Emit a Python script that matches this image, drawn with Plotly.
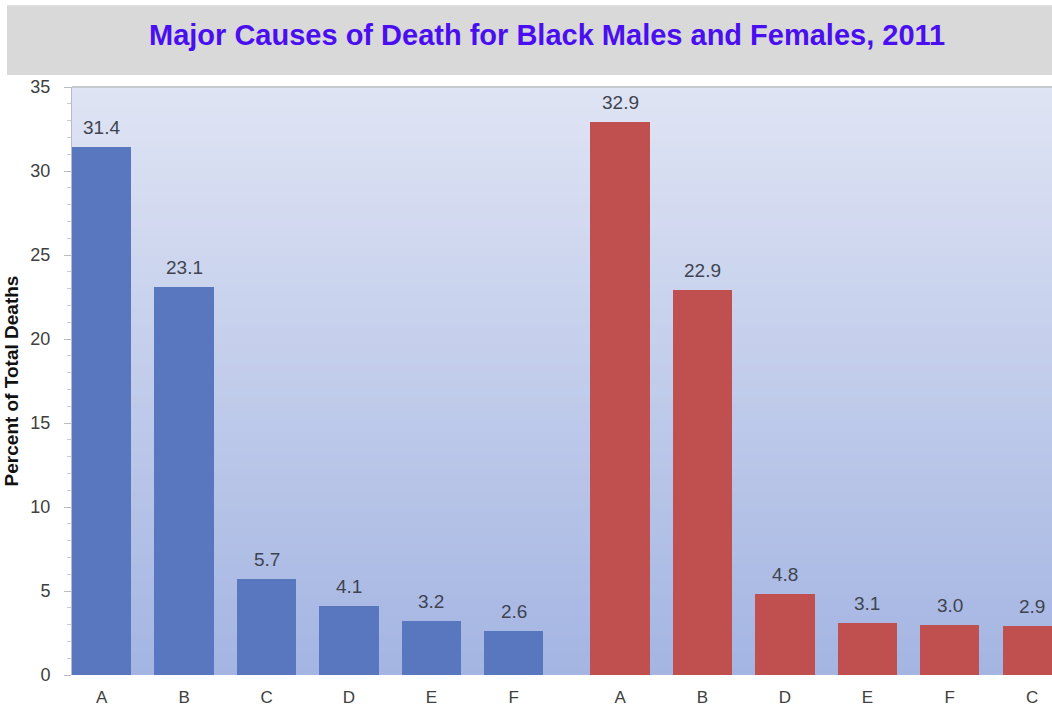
import plotly.graph_objects as go

# Percent of total deaths by cause
male_causes = ["A", "B", "C", "D", "E", "F"]
male_values = [31.4, 23.1, 5.7, 4.1, 3.2, 2.6]
female_causes = ["A", "B", "D", "E", "F", "C"]
female_values = [32.9, 22.9, 4.8, 3.1, 3.0, 2.9]

y_ticks = [0, 5, 10, 15, 20, 25, 30, 35]

GROUP_GAP = 0.29  # extra space between the two groups, in bar slots
BAR_W = 0.72

male_x = list(range(len(male_causes)))
female_x = [len(male_causes) + GROUP_GAP + i for i in range(len(female_causes))]

fig = go.Figure()

fig.add_trace(go.Bar(
    x=male_x, y=male_values, width=BAR_W,
    marker=dict(color="#5877bf", line=dict(width=0)),
    name="Males", showlegend=False, hoverinfo="y",
))
fig.add_trace(go.Bar(
    x=female_x, y=female_values, width=BAR_W,
    marker=dict(color="#c0504f", line=dict(width=0)),
    name="Females", showlegend=False, hoverinfo="y",
))

# value labels above bars
annotations = []
for xs, vals in ((male_x, male_values), (female_x, female_values)):
    for xv, v in zip(xs, vals):
        annotations.append(dict(
            x=xv, y=v, xref="x", yref="y", text=f"{v:.1f}",
            showarrow=False, yanchor="bottom", yshift=7,
            font=dict(family="Liberation Sans, Arial", size=19, color="#3f4450"),
        ))

# title
annotations.append(dict(
    x=0.485, y=1.088, xref="paper", yref="paper",
    text="<b>Major Causes of Death for Black Males and Females, 2011</b>",
    showarrow=False, xanchor="center", yanchor="middle",
    font=dict(family="Liberation Sans, Arial", size=29, color="#4a0ff0"),
))

shapes = []
# vertical gradient in the plotting area: stacked rects, each one shorter
# and darker, so no seams appear between bands
top = (223, 228, 244)
bottom = (164, 181, 226)
n = 80
for i in range(n):
    t = i / (n - 1)
    c = tuple(round(top[k] + (bottom[k] - top[k]) * t) for k in range(3))
    shapes.append(dict(
        type="rect", xref="x domain", yref="y domain",
        x0=0, x1=1, y0=0, y1=1 - i / n,
        fillcolor=f"rgb{c}", line=dict(width=0), layer="below",
    ))
# grey title band
shapes.append(dict(
    type="rect", xref="paper", yref="paper",
    x0=-0.0663, x1=1.0, y0=1.0204, y1=1.139,
    fillcolor="#d9d9d9", line=dict(width=0), layer="below",
))
# top border line of plot area
shapes.append(dict(
    type="line", xref="paper", yref="paper",
    x0=0, x1=1, y0=1.0, y1=1.0,
    line=dict(color="#c4c8cf", width=2), layer="above",
))

fig.update_layout(
    width=1052, height=710,
    margin=dict(l=72, r=0, t=87, b=35),
    paper_bgcolor="white",
    plot_bgcolor="rgba(0,0,0,0)",
    bargap=0,
    shapes=shapes,
    annotations=annotations,
    font=dict(family="Liberation Sans, Arial", color="#404040"),
    xaxis=dict(
        range=[-BAR_W / 2, -BAR_W / 2 + 11.89],
        tickvals=male_x + female_x,
        ticktext=male_causes + female_causes,
        showgrid=False, zeroline=False, showline=False,
        ticks="", tickfont=dict(size=17, color="#404040"),
        ticklabelstandoff=10,
    ),
    yaxis=dict(
        range=[0, 35],
        tickvals=y_ticks,
        showgrid=False, zeroline=False,
        showline=True, linecolor="#b8bcc4", linewidth=1,
        ticks="outside", ticklen=7, tickcolor="#b8bcc4",
        tickfont=dict(size=18, color="#404040"),
        ticklabelstandoff=10,
        minor=dict(dtick=1, ticks="outside", ticklen=4, tickcolor="#c8ccd2"),
        title=dict(text="<b>Percent of Total Deaths</b>",
                   font=dict(size=19, color="#111111"), standoff=6),
    ),
)

fig.write_html("out.html")
